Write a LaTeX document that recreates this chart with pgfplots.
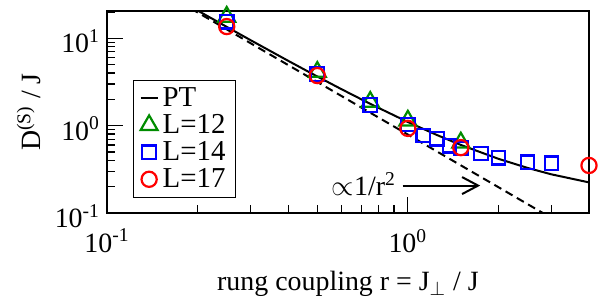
\documentclass[border=0pt]{standalone}
\usepackage{fontspec}
\setmainfont{Liberation Serif}
\usepackage{pgfplots}
\pgfplotsset{compat=1.18}
\usetikzlibrary{arrows.meta}
\definecolor{mygreen}{RGB}{0,140,0}
\definecolor{myblue}{RGB}{0,0,255}
\definecolor{myred}{RGB}{255,0,0}
\begin{document}
\begin{tikzpicture}[font=\fontsize{14}{16}\selectfont]
\useasboundingbox (-53.5bp,-42bp) rectangle (248bp,106.5bp);
\begin{axis}[
  at={(0,0)}, anchor=south west,
  scale only axis, width=241bp, height=101bp,
  xmode=log, ymode=log,
  xmin=0.1, xmax=4, ymin=0.1, ymax=20.5,
  tick pos=left, tick align=inside,
  xtick={0.1,1}, xticklabels={10\textsuperscript{-1},10\textsuperscript{0}},
  ytick={0.1,1,10}, yticklabels={10\textsuperscript{-1},10\textsuperscript{0},10\textsuperscript{1}},
  xticklabel style={yshift=-4.5bp},
  yticklabel style={yshift=-1.5bp},
  minor xtick={0.2,0.3,0.4,0.5,0.6,0.7,0.8,0.9,2,3},
  minor ytick={0.2,0.3,0.4,0.5,0.6,0.7,0.8,0.9,2,3,4,5,6,7,8,9,20},
  major tick length=8bp, minor tick length=4bp,
  every tick/.style={black, line width=0.6bp},
  axis line style={line width=0.6bp},
  xlabel={rung coupling r = J$_{\perp}$ / J},
  xlabel style={yshift=-2.5bp},
  ylabel={D\textsuperscript{(S)} / J},
  legend style={at={(0.054,0.66)}, anchor=north west, draw=black, line width=0.6bp,
    inner xsep=3bp, inner ysep=1.5bp, row sep=-1.5bp, font=\fontsize{14.5}{16}\selectfont,
    /tikz/every even column/.append style={column sep=9bp}},
  legend cell align=left,
]
\addplot[black, line width=1bp, legend image code/.code={\draw[black, line width=1bp] (0.15cm,0cm) -- (0.45cm,0cm);}] coordinates {
(0.19,22.96) (0.2,20.78) (0.25,13.49) (0.3,9.51) (0.4,5.52) (0.5,3.65) (0.6,2.625)
(0.75,1.774) (1,1.10) (1.25,0.780) (1.5,0.601) (2,0.417) (2.5,0.328) (3,0.277) (4,0.224)};
\addlegendentry{PT}
\addplot[black, line width=1bp, dash pattern=on 4bp off 2.5bp, forget plot] coordinates {
(0.19,21.88) (0.5,3.16) (1,0.79) (2,0.1975) (2.9,0.0939)};
\addplot[only marks, mark=triangle, mark size=4.9bp, mygreen, line width=1.1bp] coordinates {
(0.25,17.6) (0.5,4.12) (0.75,1.87) (1,1.14) (1.5,0.64)};
\addlegendentry{L=12}
\addplot[only marks, mark=square, mark size=3.4bp, myblue, line width=1.1bp] coordinates {
(0.25,15.5) (0.5,3.91) (0.75,1.72) (1,1.03) (1.125,0.77) (1.25,0.71) (1.375,0.59)
(1.5,0.55) (1.75,0.48) (2,0.43) (2.5,0.38) (3,0.37)};
\addlegendentry{L=14}
\addplot[only marks, mark=o, mark size=3.8bp, myred, line width=1.1bp] coordinates {
(0.25,13.6) (0.5,3.74) (1,0.93) (1.5,0.56) (4,0.35)};
\addlegendentry{L=17}
\node[anchor=east, inner sep=1bp] at (axis cs:0.93,0.215) {$\propto$1/r\textsuperscript{2}};
\draw[line width=1bp, -{Straight Barb[length=8bp,width=8.5bp]}] (axis cs:0.96,0.206) -- (axis cs:1.74,0.206);
\end{axis}
\end{tikzpicture}
\end{document}
